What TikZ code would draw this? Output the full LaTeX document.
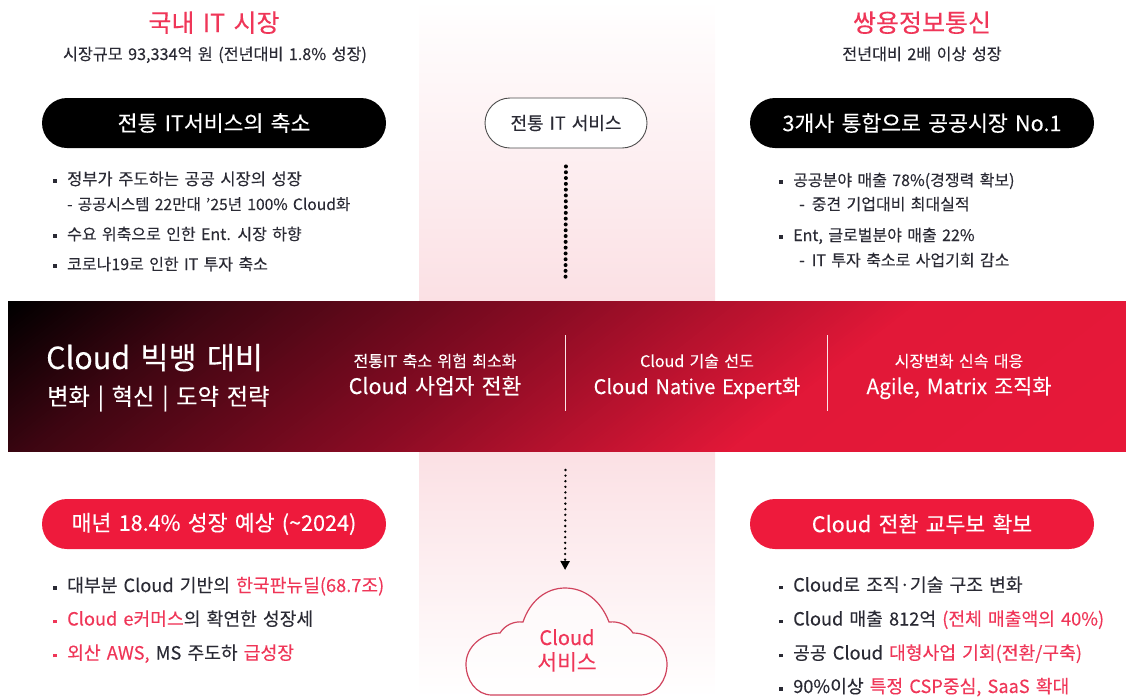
\documentclass[tikz,border=0pt]{standalone}
\usepackage{fontspec}
\setmainfont{Noto Sans CJK KR}[WordSpace=1.5,FakeBold=0.2]
\usetikzlibrary{arrows.meta}
\definecolor{crim}{HTML}{EE1A3C}
\definecolor{pinkc}{HTML}{FBE0E4}
\definecolor{inkc}{HTML}{2A2A34}
\definecolor{redt}{HTML}{EF3658}
\newcommand{\rt}[1]{\textcolor{redt}{#1}}
\newcommand{\bl}{\makebox[14pt][l]{\raisebox{2.2pt}{\rule{3.6pt}{3.6pt}}}}
\newcommand{\rbl}{\makebox[14pt][l]{\textcolor{redt}{\raisebox{2.2pt}{\rule{3.6pt}{3.6pt}}}}}
\newcommand{\ramp}[5]{ifthenelse(\t<130,#1+(#2-#1)*(\t/130),ifthenelse(\t<340,#2+(#3-#2)*((\t-130)/210),ifthenelse(\t<560,#3+(#4-#3)*((\t-340)/220),#4+(#5-#4)*((\t-560)/250))))}
\tikzset{
  txt/.style={inner sep=0pt,text=inkc,anchor=base},
  ltxt/.style={inner sep=0pt,text=inkc,anchor=base west},
  smalll/.style={ltxt,font=\fontsize{16}{18}\selectfont},
  bigl/.style={ltxt,font=\fontsize{18.2}{20}\selectfont},
  title/.style={txt,text=redt,font=\fontsize{25}{28}\selectfont},
  sub/.style={txt,font=\fontsize{16.2}{18}\selectfont},
  pillbox/.style={rounded corners=25pt,minimum width=344pt,minimum height=50pt,inner sep=0pt,text=white,font=\fontsize{21.6}{24}\selectfont},
  band1/.style={txt,text=white,font=\fontsize{16}{18}\selectfont},
  band2/.style={txt,text=white,font=\fontsize{20.8}{24}\selectfont},
}
\begin{document}
\begin{tikzpicture}[x=1pt,y=-1pt]
\useasboundingbox (0,0) rectangle (1126,697);
% central column
\path[top color=white,bottom color=pinkc] (419,0) rectangle (715,301);
\path[top color=pinkc,bottom color=white] (419,451) rectangle (715,697);
% band: diagonal gradient painted as overlapping strips
\begin{scope}
\clip (8,301) rectangle (1126,451);
\begin{scope}[shift={(8,301)},rotate=-52]
\foreach \t in {0,3,...,810}{
  \pgfmathtruncatemacro{\cr}{\ramp{0}{62}{138}{226}{232}}
  \pgfmathtruncatemacro{\cg}{\ramp{0}{6}{12}{24}{24}}
  \pgfmathtruncatemacro{\cb}{\ramp{0}{18}{36}{56}{58}}
  \definecolor{stripc}{RGB}{\cr,\cg,\cb}
  \fill[stripc] (\t,-1300) rectangle (1300,1300);
}
\end{scope}
\end{scope}
\draw[pinkc!85!white,line width=1pt] (565,335) -- (565,411);
\draw[pinkc!85!white,line width=1pt] (827.5,335) -- (827.5,411);
% headers
\node[title] (t1) at (214,32) {국내 IT 시장};
\node[sub] (s1) at (215,60) {시장규모 93,334억 원 (전년대비 1.8\% 성장)};
\node[title] (t2) at (922,32) {쌍용정보통신};
\node[sub] (s2) at (922,60) {전년대비 2배 이상 성장};
% pills
\node[pillbox,fill=black] (p1) at (214,123) {전통 IT서비스의 축소};
\node[pillbox,fill=black] (p2) at (922,123) {3개사 통합으로 공공시장 No.1};
\node[pillbox,fill=crim] (p3) at (214,524) {매년 18.4\% 성장 예상 (\textasciitilde 2024)};
\node[pillbox,fill=crim] (p4) at (922,524) {Cloud 전환 교두보 확보};
\node[draw=black!70,fill=white,line width=.9pt,rounded corners=25pt,minimum width=162pt,minimum height=50pt,inner sep=0pt,text=inkc,font=\fontsize{18}{20}\selectfont] (svc) at (566,123) {전통 IT 서비스};
% upper left list
\node[smalll,font=\fontsize{16.5}{18}\selectfont] (a1) at (53,185) {\bl 정부가 주도하는 공공 시장의 성장};
\node[smalll,font=\fontsize{15.6}{18}\selectfont] (a2) at (67,210) {- 공공시스템 22만대 ’25년 100\% Cloud화};
\node[smalll] (a3) at (53,240) {\bl 수요 위축으로 인한 Ent. 시장 하향};
\node[smalll] (a4) at (53,270) {\bl 코로나19로 인한 IT 투자 축소};
% upper right list
\node[smalll] (b1) at (779,186) {\bl 공공분야 매출 78\%(경쟁력 확보)};
\node[smalll] (b2) at (799,210) {-\hspace{7pt}중견 기업대비 최대실적};
\node[smalll] (b3) at (779,241) {\bl Ent, 글로벌분야 매출 22\%};
\node[smalll] (b4) at (799,266) {-\hspace{7pt}IT 투자 축소로 사업기회 감소};
% band text
\node[ltxt,text=white,font=\fontsize{30.5}{34}\selectfont] (c1) at (46,369) {Cloud 빅뱅 대비};
\node[ltxt,text=white,font=\fontsize{23.2}{26}\selectfont] (c2) at (47,405) {변화 | 혁신 | 도약 전략};
\node[band1] (d1) at (435,367) {전통IT 축소 위험 최소화};
\node[band2,font=\fontsize{21.5}{24}\selectfont] (d2) at (435,394) {Cloud 사업자 전환};
\node[band1] (e1) at (697,367) {Cloud 기술 선도};
\node[band2,font=\fontsize{20}{24}\selectfont] (e2) at (697,394) {Cloud Native Expert화};
\node[band1] (f1) at (959,367) {시장변화 신속 대응};
\node[band2] (f2) at (959,394) {Agile, Matrix 조직화};
% lower left list
\node[bigl] (g1) at (53,592) {\bl 대부분 Cloud 기반의 \rt{한국판뉴딜(68.7조)}};
\node[bigl] (g2) at (53,625.5) {\rbl \rt{Cloud e커머스}의 확연한 성장세};
\node[bigl] (g3) at (53,659.5) {\rbl \rt{외산 AWS,} MS 주도하 \rt{급성장}};
% lower right list
\node[bigl] (h1) at (779,591.5) {\bl Cloud로 조직·기술 구조 변화};
\node[bigl] (h2) at (779,625.5) {\bl Cloud 매출 812억 \rt{(전체 매출액의 40\%)}};
\node[bigl] (h3) at (779,659.5) {\bl 공공 Cloud \rt{대형사업 기회(전환/구축)}};
\node[bigl] (h4) at (779,693) {\bl 90\%이상 \rt{특정 CSP중심, SaaS 확대}};
% cloud
\draw[redt!85!black!90,line width=1.2pt,fill=white,fill opacity=.55]
 (492,695) .. controls (476,695) and (466,680) .. (466,664)
 .. controls (466,647) and (482,633) .. (500,633)
 .. controls (505,625) and (514,621) .. (523,622)
 .. controls (530,601) and (546,588) .. (565,588)
 .. controls (585,588) and (601,601) .. (609,622)
 .. controls (619,621) and (628,625) .. (633,633)
 .. controls (651,633) and (667,647) .. (667,664)
 .. controls (667,680) and (657,695) .. (640,695) -- cycle;
\coordinate (cloudtop) at (565,588);
\coordinate (dotend) at (565.5,282);
\coordinate (arrstart) at (565.5,470);
\node[txt,text=redt,font=\fontsize{20}{22}\selectfont] (cl1) at (567,645) {Cloud};
\node[txt,text=redt,font=\fontsize{21.5}{22}\selectfont] (cl2) at (567,670) {서비스};
% connectors
\draw[black,line width=4pt,line cap=round,dash pattern=on 0pt off 5.8pt,shorten <=18pt] (svc.south) -- (dotend);
\draw[black,line width=2.6pt,line cap=round,dash pattern=on 0pt off 5.6pt,shorten >=18pt,-{Triangle[width=9pt,length=9pt]}] (arrstart) -- (cloudtop);
\end{tikzpicture}
\end{document}
